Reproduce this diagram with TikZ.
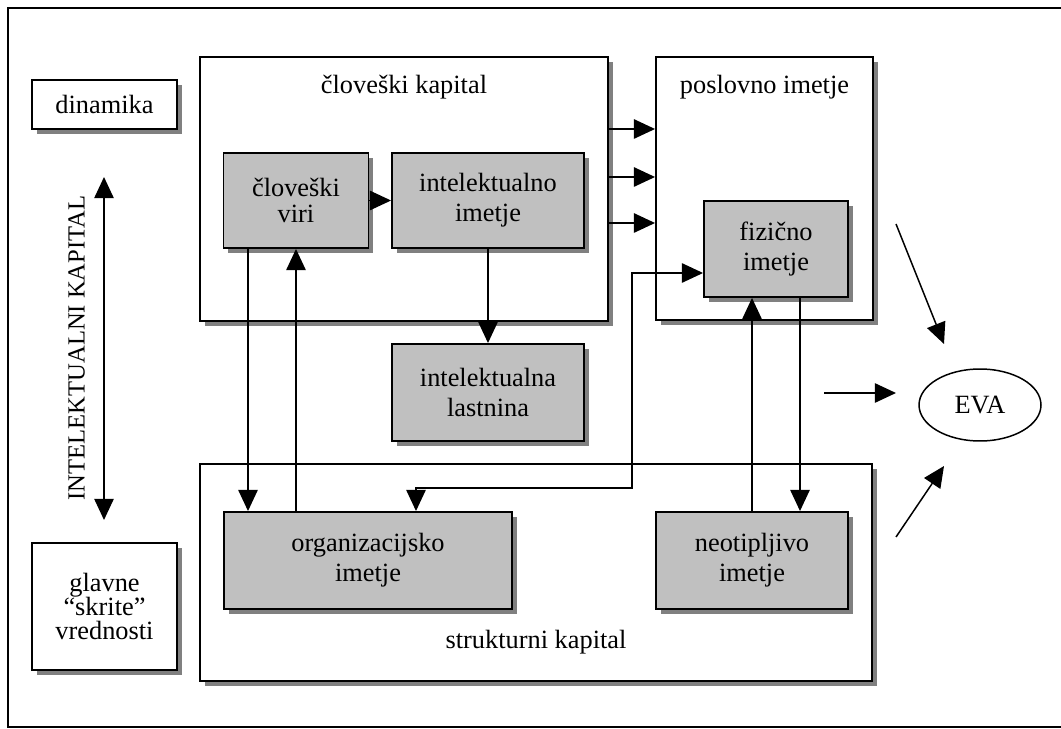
\documentclass[tikz,border=0pt]{standalone}
\usepackage{fontspec}
\setmainfont{Liberation Serif}
\usetikzlibrary{arrows.meta,shadows,calc,shapes.geometric}
\definecolor{boxgray}{RGB}{192,192,192}
\definecolor{shgray}{RGB}{128,128,128}
\begin{document}
\begin{tikzpicture}[x=0.02cm,y=-0.02cm,
  box/.style={draw=black, line width=1.1pt, fill=white, inner sep=0pt, align=center,
    font=\fontsize{15}{17}\selectfont,
    general shadow={fill=shgray, shadow xshift=2.8pt, shadow yshift=-2.8pt}},
  gbox/.style={box, fill=boxgray},
  lbl/.style={inner sep=0pt, font=\fontsize{15}{17}\selectfont},
  arr/.style={line width=0.85pt, -{Triangle[length=12pt,width=11pt]}},
  arrboth/.style={line width=0.85pt, {Triangle[length=12pt,width=11pt]}-{Triangle[length=12pt,width=11pt]}},
  frame/.style={draw=black, line width=1pt}]
\useasboundingbox (0,0) rectangle (1061,729);
\draw[frame] (8,8) rectangle (1064,727);

% left column
\node[box, minimum width=2.9cm, minimum height=0.98cm] (din) at (104.5,104.5) {dinamika};
\node[box, minimum width=2.9cm, minimum height=2.54cm, font=\fontsize{15}{13.8}\selectfont] (glav) at (104.5,606.5) {glavne\\“skrite”\\vrednosti};
\coordinate (ia) at (104,177);
\coordinate (ib) at (104,520);
\draw[arrboth] (ia) -- (ib);
\node[lbl, rotate=90, font=\fontsize{14}{16}\selectfont] (ik) at (76.5,348) {INTELEKTUALNI KAPITAL};

% big boxes
\node[box, minimum width=8.16cm, minimum height=5.28cm] (ck) at (404,189) {};
\node[lbl] (cklbl) at (404,87) {človeški kapital};
\node[box, minimum width=4.34cm, minimum height=5.26cm] (pos) at (764.5,188.5) {};
\node[lbl] (poslbl) at (764.5,87.5) {poslovno imetje};
\node[box, minimum width=13.44cm, minimum height=4.34cm] (sk) at (536,572.5) {};
\node[lbl] (sklbl) at (536,642) {strukturni kapital};

% gray boxes
\node[gbox, minimum width=2.9cm, minimum height=1.9cm, font=\fontsize{15}{14.5}\selectfont] (viri) at (296,200.5) {človeški\\viri};
\node[gbox, minimum width=3.84cm, minimum height=1.9cm] (intel) at (488,200.5) {intelektualno\\imetje};
\node[gbox, minimum width=2.88cm, minimum height=1.92cm] (fiz) at (776,249) {fizično\\imetje};
\node[gbox, minimum width=3.84cm, minimum height=1.94cm] (last) at (488,392.5) {intelektualna\\lastnina};
\node[gbox, minimum width=5.76cm, minimum height=1.94cm] (org) at (368,560.5) {organizacijsko\\imetje};
\node[gbox, minimum width=3.84cm, minimum height=1.94cm] (neot) at (752,560.5) {neotipljivo\\imetje};
\node[draw=black, line width=0.85pt, ellipse, minimum width=2.44cm, minimum height=1.44cm, inner sep=0pt, font=\fontsize{15}{17}\selectfont] (eva) at (980,405) {EVA};

% connectors
\coordinate (x248) at (248,0);
\coordinate (x416) at (416,0);
\coordinate (x800) at (800,0);
\coordinate (ca) at (632,273);
\coordinate (cb) at (632,488);
\coordinate (y129) at (0,129);
\coordinate (y177) at (0,177);
\coordinate (y223) at (0,223);

\draw[arr] (viri) -- (intel);
\draw[arr] (viri.south -| x248) -- (org.north -| x248);
\draw[arr] (org.north -| viri.south) -- (viri.south);
\draw[arr] (intel.south) -- (last.north);
\draw[arr] (ck.east |- y129) -- (pos.west |- y129);
\draw[arr] (ck.east |- y177) -- (pos.west |- y177);
\draw[arr] (ck.east |- y223) -- (pos.west |- y223);
\draw[arrboth] (fiz.west |- ca) -- (ca) -- (cb) -| (org.north -| x416);
\draw[arr] (neot.north) -- (neot.north |- fiz.south);
\draw[arr] (fiz.south -| x800) -- (neot.north -| x800);

% arrows towards EVA
\coordinate (e1s) at (896,224);
\coordinate (e1e) at (944,344);
\coordinate (e2s) at (824,393);
\coordinate (e2e) at (896,393);
\coordinate (e3s) at (896,537);
\coordinate (e3e) at (944,466);
\draw[arr] (e1s) -- (e1e);
\draw[arr] (e2s) -- (e2e);
\draw[arr] (e3s) -- (e3e);
\end{tikzpicture}
\end{document}
